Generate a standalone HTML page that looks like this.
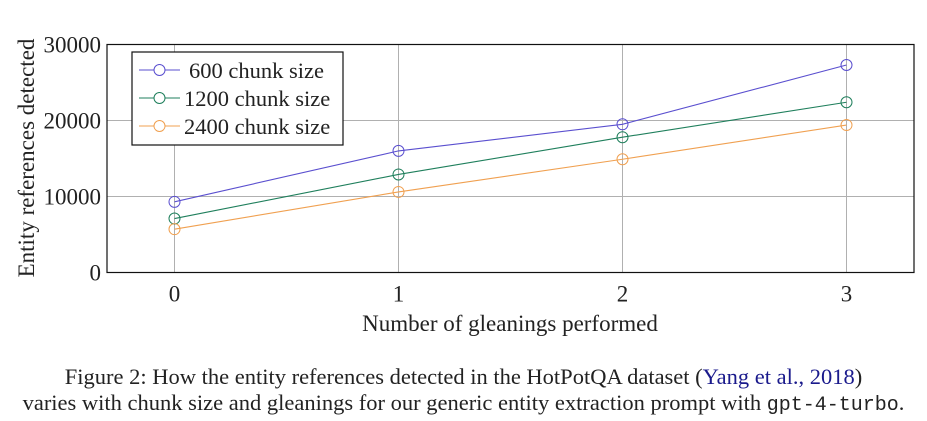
<!DOCTYPE html>
<html><head><meta charset="utf-8"><style>
body{margin:0;background:#fff;width:927px;height:421px;overflow:hidden;font-family:"Liberation Serif",serif}
.cap{position:absolute;left:-20px;width:967px;text-align:center;font-size:22.5px;color:#222;white-space:nowrap}
</style></head><body>
<svg id="chart" width="927" height="350" style="position:absolute;left:0;top:0" font-family="Liberation Serif, serif"></svg>
<div class="cap" style="top:364px">Figure 2: How the entity references detected in the HotPotQA dataset (<span style="color:#1a1a8c">Yang et al., 2018</span>)</div>
<div class="cap" style="top:390px">varies with chunk size and gleanings for our generic entity extraction prompt with <span style="font-family:'Liberation Mono',monospace;font-size:20px">gpt-4-turbo</span>.</div>
<script>
const categories=[0,1,2,3];
const yTicks=[0,10000,20000,30000];
const seriesNames=["600 chunk size","1200 chunk size","2400 chunk size"];
const s600=[9300,16000,19500,27300];
const s1200=[7100,12900,17800,22400];
const s2400=[5700,10600,14900,19400];
const colors=["#5a4fcf","#1f7f5c","#f0a050"];
const svg=document.getElementById('chart');
const NS="http://www.w3.org/2000/svg";
const L=107,R=914,T=44.5,B=272.5;
const x=v=>174.5+v*224;
const y=v=>B-(v/30000)*(B-T);
function el(t,a,p){const e=document.createElementNS(NS,t);for(const k in a)e.setAttribute(k,a[k]);(p||svg).appendChild(e);return e;}
categories.forEach(c=>{const g=el('line',{x1:x(c),x2:x(c),y1:T,y2:B,stroke:'#b0b0b0','stroke-width':1});


const t=el('text',{x:x(c),y:B+29,'text-anchor':'middle','font-size':23,fill:'#222'});t.textContent=c;

});
yTicks.forEach(v=>{const g=el('line',{x1:L,x2:R,y1:y(v),y2:y(v),stroke:'#b0b0b0','stroke-width':1});


const t=el('text',{x:L-6,y:y(v)+8,'text-anchor':'end','font-size':23,fill:'#222'});t.textContent=v;

});
const fr=el('rect',{x:L,y:T,width:R-L,height:B-T,fill:'none',stroke:'#111','stroke-width':1.2});


[s600,s1200,s2400].forEach((s,i)=>{
const p=el('polyline',{points:s.map((v,j)=>x(categories[j])+','+y(v)).join(' '),fill:'none',stroke:colors[i],'stroke-width':1.1});


s.forEach((v,j)=>{const c=el('circle',{cx:x(categories[j]),cy:y(v),r:5.5,fill:'none',stroke:colors[i],'stroke-width':1});

});
});
const lg=el('rect',{x:132,y:52,width:211,height:93,fill:'#fff',stroke:'#111','stroke-width':1.2});


seriesNames.forEach((n,i)=>{const yy=70+i*28;
const l=el('line',{x1:139,x2:180,y1:yy,y2:yy,stroke:colors[i],'stroke-width':1.1});


const c=el('circle',{cx:159.5,cy:yy,r:5.5,fill:'#fff',stroke:colors[i],'stroke-width':1});


const t=el('text',{x:i==0?189:184,y:yy+8,'font-size':22.5,fill:'#222'});t.textContent=n;

});
const yl=el('text',{x:0,y:0,'text-anchor':'middle','font-size':23,fill:'#222',transform:'translate(34,158) rotate(-90)'});yl.textContent="Entity references detected";


const xl=el('text',{x:510,y:331,'text-anchor':'middle','font-size':23,fill:'#222'});xl.textContent="Number of gleanings performed";


</script>
</body></html>
